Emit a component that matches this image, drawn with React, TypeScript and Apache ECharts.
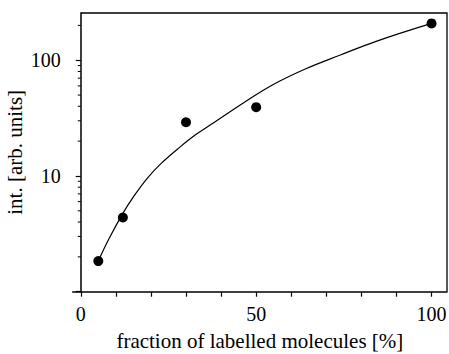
import React, { useEffect, useRef } from "react";
import * as echarts from "echarts";

// Measured points: fraction of labelled molecules [%] vs intensity
const fractionPct = [5, 12, 30, 50, 100];
const intensity = [1.84, 4.38, 29.1, 39.3, 208];

// Guide curve drawn through the data
const curveX = [5, 8, 12, 15, 19, 23, 28, 33, 38, 47, 55, 64, 74, 84, 100];
const curveY = [1.84, 2.85, 4.75, 6.6, 9.6, 12.9, 17.5, 23, 29, 44, 62, 84, 111, 145, 208];

// Axis ranges and ticks
const xMin = -2.3;
const xMax = 104.4;
const xTicks = [0, 10, 20, 30, 40, 50, 60, 70, 80, 90, 100];
const xLabels = [0, 50, 100];
const yMin = 1;
const yMax = 256;
const yMajor = [1, 10, 100];
const yLabels = [10, 100];
const yMinor = [2, 3, 4, 5, 6, 7, 8, 9, 20, 30, 40, 50, 60, 70, 80, 90, 200];

const FONT = "Liberation Serif";

export default function App() {
  const ref = useRef<HTMLDivElement>(null);

  useEffect(() => {
    if (!ref.current) return;
    const chart = echarts.init(ref.current, null, { renderer: "svg" });

    const scatterData = fractionPct.map((x, i) => [x, intensity[i]]);
    const curveData = curveX.map((x, i) => [x, curveY[i]]);

    chart.setOption({
      animation: false,
      backgroundColor: "#ffffff",
      textStyle: { fontFamily: FONT },
      grid: {
        left: 72.7,
        right: 2,
        top: 13,
        bottom: 62.3,
        containLabel: false,
        outerBoundsMode: "none",
      },
      xAxis: {
        type: "value",
        min: xMin,
        max: xMax,
        name: "fraction of labelled molecules [%]",
        nameLocation: "middle",
        nameGap: 39,
        nameMoveOverlap: false,
        nameTextStyle: { fontFamily: FONT, fontSize: 21, color: "#000" },
        axisLine: { show: true, onZero: false, lineStyle: { color: "#000", width: 1.5 } },
        axisTick: { show: true, length: 5, customValues: xTicks, lineStyle: { color: "#000", width: 1.2 } },
        axisLabel: {
          customValues: xLabels,
          margin: 12,
          fontFamily: FONT,
          fontSize: 20,
          color: "#000",
          hideOverlap: false,
        },
        splitLine: { show: false },
      },
      yAxis: {
        type: "log",
        logBase: 10,
        min: yMin,
        max: yMax,
        name: "int. [arb. units]",
        nameLocation: "middle",
        nameGap: 47,
        nameMoveOverlap: false,
        nameTextStyle: { fontFamily: FONT, fontSize: 21, color: "#000" },
        axisLine: { show: true, onZero: true, lineStyle: { color: "#000", width: 1.5 } },
        axisTick: { show: true, length: 5, customValues: yMajor, lineStyle: { color: "#000", width: 1.2 } },
        axisLabel: {
          customValues: yLabels,
          margin: 12,
          fontFamily: FONT,
          fontSize: 20,
          color: "#000",
        },
        splitLine: { show: false },
      },
      series: [
        {
          type: "line",
          data: curveData,
          smooth: 0.4,
          showSymbol: false,
          symbol: "none",
          lineStyle: { color: "#000", width: 1.2 },
          silent: true,
          z: 2,
        },
        {
          type: "scatter",
          data: scatterData,
          symbol: "circle",
          symbolSize: 10,
          itemStyle: { color: "#000", opacity: 1 },
          z: 3,
        },
        {
          // minor ticks of the log axis
          type: "custom",
          data: yMinor.map((v) => [0, v]),
          clip: false,
          silent: true,
          renderItem: (params: any, api: any) => {
            const p = api.coord([0, api.value(1)]);
            return {
              type: "line",
              shape: { x1: p[0], y1: p[1], x2: p[0] - 3, y2: p[1] },
              style: { stroke: "#000", lineWidth: 1 },
            };
          },
          z: 4,
        },
        {
          // top and right frame lines
          type: "custom",
          data: [[0, yMax]],
          clip: false,
          silent: true,
          renderItem: (params: any, api: any) => {
            const a = api.coord([0, yMax]);
            const b = api.coord([xMax, yMax]);
            const c = api.coord([xMax, yMin]);
            return {
              type: "polyline",
              shape: { points: [a, b, c] },
              style: { stroke: "#000", lineWidth: 1.3, fill: "none" },
            };
          },
          z: 4,
        },
      ],
    });

    return () => chart.dispose();
  }, []);

  return <div ref={ref} style={{ width: 449, height: 354, position: "absolute", left: 0, top: 0 }} />;
}
